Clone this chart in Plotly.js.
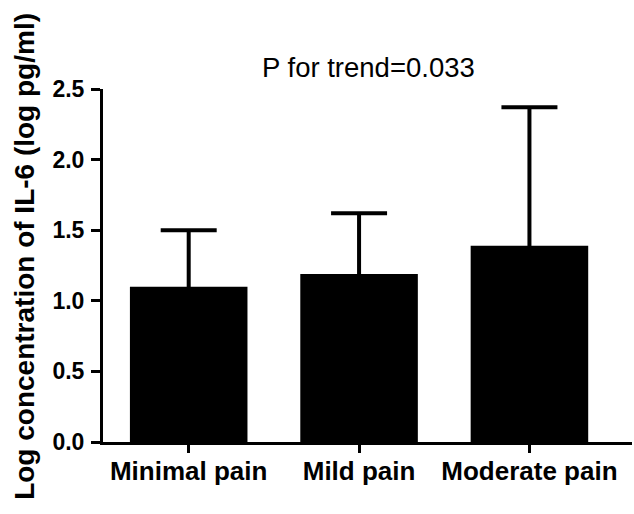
<!DOCTYPE html>
<html>
<head>
<meta charset="utf-8">
<script src="https://cdn.plot.ly/plotly-3.0.1.min.js"></script>
<style>html,body{margin:0;padding:0;background:#fff;}#chart{width:634px;height:514px;}</style>
</head>
<body>
<div id="chart"></div>
<script>
var categories = ["Minimal pain", "Mild pain", "Moderate pain"];
var means = [1.10, 1.19, 1.39];
var sd = [0.40, 0.43, 0.98];
var yTickVals = [0, 0.5, 1.0, 1.5, 2.0, 2.5];
var yTickText = ["0.0", "0.5", "1.0", "1.5", "2.0", "2.5"];
var titleText = "P for trend=0.033";
var yTitleText = "Log concentration of IL-6 (log pg/ml)";

var FONT = '"Liberation Sans", Arial, Helvetica, sans-serif';

var trace = {
  type: 'bar',
  x: categories,
  y: means,
  width: 0.69,
  marker: {color: '#000000', line: {width: 0}},
  error_y: {
    type: 'data',
    symmetric: true,
    array: sd,
    color: '#000000',
    thickness: 4,
    width: 28
  },
  hoverinfo: 'none'
};

var layout = {
  width: 634,
  height: 514,
  margin: {l: 103, r: 2, t: 89, b: 72, pad: 0},
  paper_bgcolor: '#ffffff',
  plot_bgcolor: '#ffffff',
  showlegend: false,
  font: {family: FONT, color: '#000000'},
  xaxis: {
    type: 'category',
    range: [-0.503, 2.602],
    showline: true,
    linecolor: '#000000',
    linewidth: 3,
    ticks: 'outside',
    ticklen: 8,
    tickwidth: 3,
    tickcolor: '#000000',
    ticklabelstandoff: -4,
    showgrid: false,
    zeroline: false,
    tickfont: {family: FONT, size: 26, color: '#000000', weight: 'bold'},
    fixedrange: true
  },
  yaxis: {
    range: [0, 2.5],
    tickvals: yTickVals,
    ticktext: yTickText,
    showline: true,
    linecolor: '#000000',
    linewidth: 3,
    ticks: 'outside',
    ticklen: 9,
    tickwidth: 3,
    tickcolor: '#000000',
    ticklabelstandoff: 2,
    showgrid: false,
    zeroline: false,
    tickfont: {family: FONT, size: 23, color: '#000000', weight: 'bold'},
    fixedrange: true
  },
  annotations: [
    {
      text: titleText,
      xref: 'paper', yref: 'paper',
      x: 0.502, y: 1.01,
      xanchor: 'center', yanchor: 'bottom',
      showarrow: false,
      font: {family: FONT, size: 27.5, color: '#000000'}
    },
    {
      text: '<b>' + yTitleText + '</b>',
      xref: 'paper', yref: 'paper',
      x: -0.149, y: 0.525,
      xanchor: 'center', yanchor: 'middle',
      textangle: -90,
      showarrow: false,
      font: {family: FONT, size: 28, color: '#000000'}
    }
  ]
};

Plotly.newPlot('chart', [trace], layout, {displayModeBar: false, staticPlot: true});
</script>
</body>
</html>
